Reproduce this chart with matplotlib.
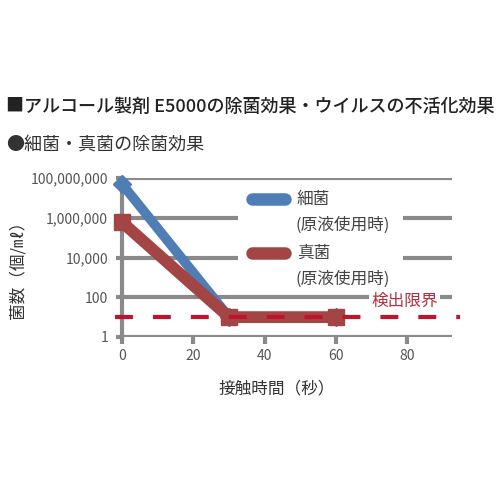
import matplotlib
matplotlib.use("Agg")
import matplotlib.pyplot as plt
from matplotlib.patches import Rectangle
from matplotlib.lines import Line2D
import matplotlib.transforms as mtransforms

plt.rcParams["font.family"] = ["Noto Sans CJK JP", "DejaVu Sans"]

# data
time_s = [0, 30, 60]
bacteria = [5e7, 10, 10]
fungi = [6e5, 10, 10]
detection_limit = 10
yticks = [1, 100, 1e4, 1e6, 1e8]
ytick_labels = ["1", "100", "10,000", "1,000,000", "100,000,000"]
xticks = [0, 20, 40, 60, 80]

BLUE = "#4f7db5"
RED = "#a44545"
DASH_RED = "#c0142c"
GRID = "#8a8a8a"
TXT = "#555555"

fig = plt.figure(figsize=(5, 5), dpi=100)
fig.patch.set_facecolor("white")

fig.text(0.012, 0.786, "■アルコール製剤 E5000の除菌効果・ウイルスの不活化効果",
         fontsize=13, fontweight="medium", color="#222222", va="center")
fig.text(0.012, 0.71, "●細菌・真菌の除菌効果",
         fontsize=13, color="#333333", va="center")

ax = fig.add_axes([0.244, 0.326, 0.66, 0.318])
ax.set_yscale("log")
ax.set_xlim(0, 92.5)
ax.set_ylim(1, 1e8)

for s in ["top", "right", "bottom"]:
    ax.spines[s].set_visible(False)
ax.spines["left"].set_color(GRID)
ax.spines["left"].set_linewidth(3)
ax.spines["left"].set_zorder(1)

ax.set_yticks(yticks)
ax.set_yticklabels(ytick_labels)
ax.yaxis.set_minor_locator(matplotlib.ticker.NullLocator())
ax.set_xticks(xticks)
ax.tick_params(axis="y", length=4, width=3, color=GRID, labelsize=10,
               labelcolor=TXT, pad=6)
ax.tick_params(axis="x", length=5, width=3, color=GRID, labelsize=10,
               labelcolor=TXT, pad=4)
for y in yticks:
    ax.axhline(y, color=GRID, lw=3, zorder=1, solid_capstyle="butt")

ax.plot(time_s, bacteria, color=BLUE, lw=7, marker="D", markersize=9,
        solid_joinstyle="round", zorder=3, clip_on=False)
ax.plot(time_s, fungi, color=RED, lw=8.5, marker="s", markersize=11,
        solid_joinstyle="round", zorder=4, clip_on=False)

trans = mtransforms.blended_transform_factory(ax.transAxes, ax.transData)
ax.plot([-0.022, 1.025], [detection_limit, detection_limit], transform=trans,
        color=DASH_RED, lw=3, dashes=(4.3, 4.8), zorder=5, clip_on=False)

# legend box (white, covers grid)
ax.add_patch(Rectangle((0.35, 0.3), 0.5, 0.65, transform=ax.transAxes,
                       facecolor="white", edgecolor="none", zorder=2))
for yy, col, name in [(0.868, BLUE, "細菌"), (0.528, RED, "真菌")]:
    ax.add_line(Line2D([0.395, 0.495], [yy, yy], transform=ax.transAxes,
                       color=col, lw=9, solid_capstyle="round", zorder=6))
    ax.text(0.53, yy, name, transform=ax.transAxes, fontsize=12,
            color="#444444", va="center", zorder=6)
    ax.text(0.525, yy - 0.162, "(原液使用時)", transform=ax.transAxes,
            fontsize=12, color="#444444", va="center", zorder=6)

ax.text(0.755, 0.225, "検出限界", transform=ax.transAxes, fontsize=12,
        color="#b03040", va="center", zorder=6,
        bbox=dict(facecolor="white", edgecolor="none", pad=1.5))

ax.set_xlabel("接触時間（秒）", fontsize=12, color="#333333")
ax.xaxis.set_label_coords(0.47, -0.27)
ax.set_ylabel("菌数（個/㎖）", fontsize=12, color="#333333")
ax.yaxis.set_label_coords(-0.29, 0.45)

fig.savefig("out.png", dpi=100, facecolor="white")
